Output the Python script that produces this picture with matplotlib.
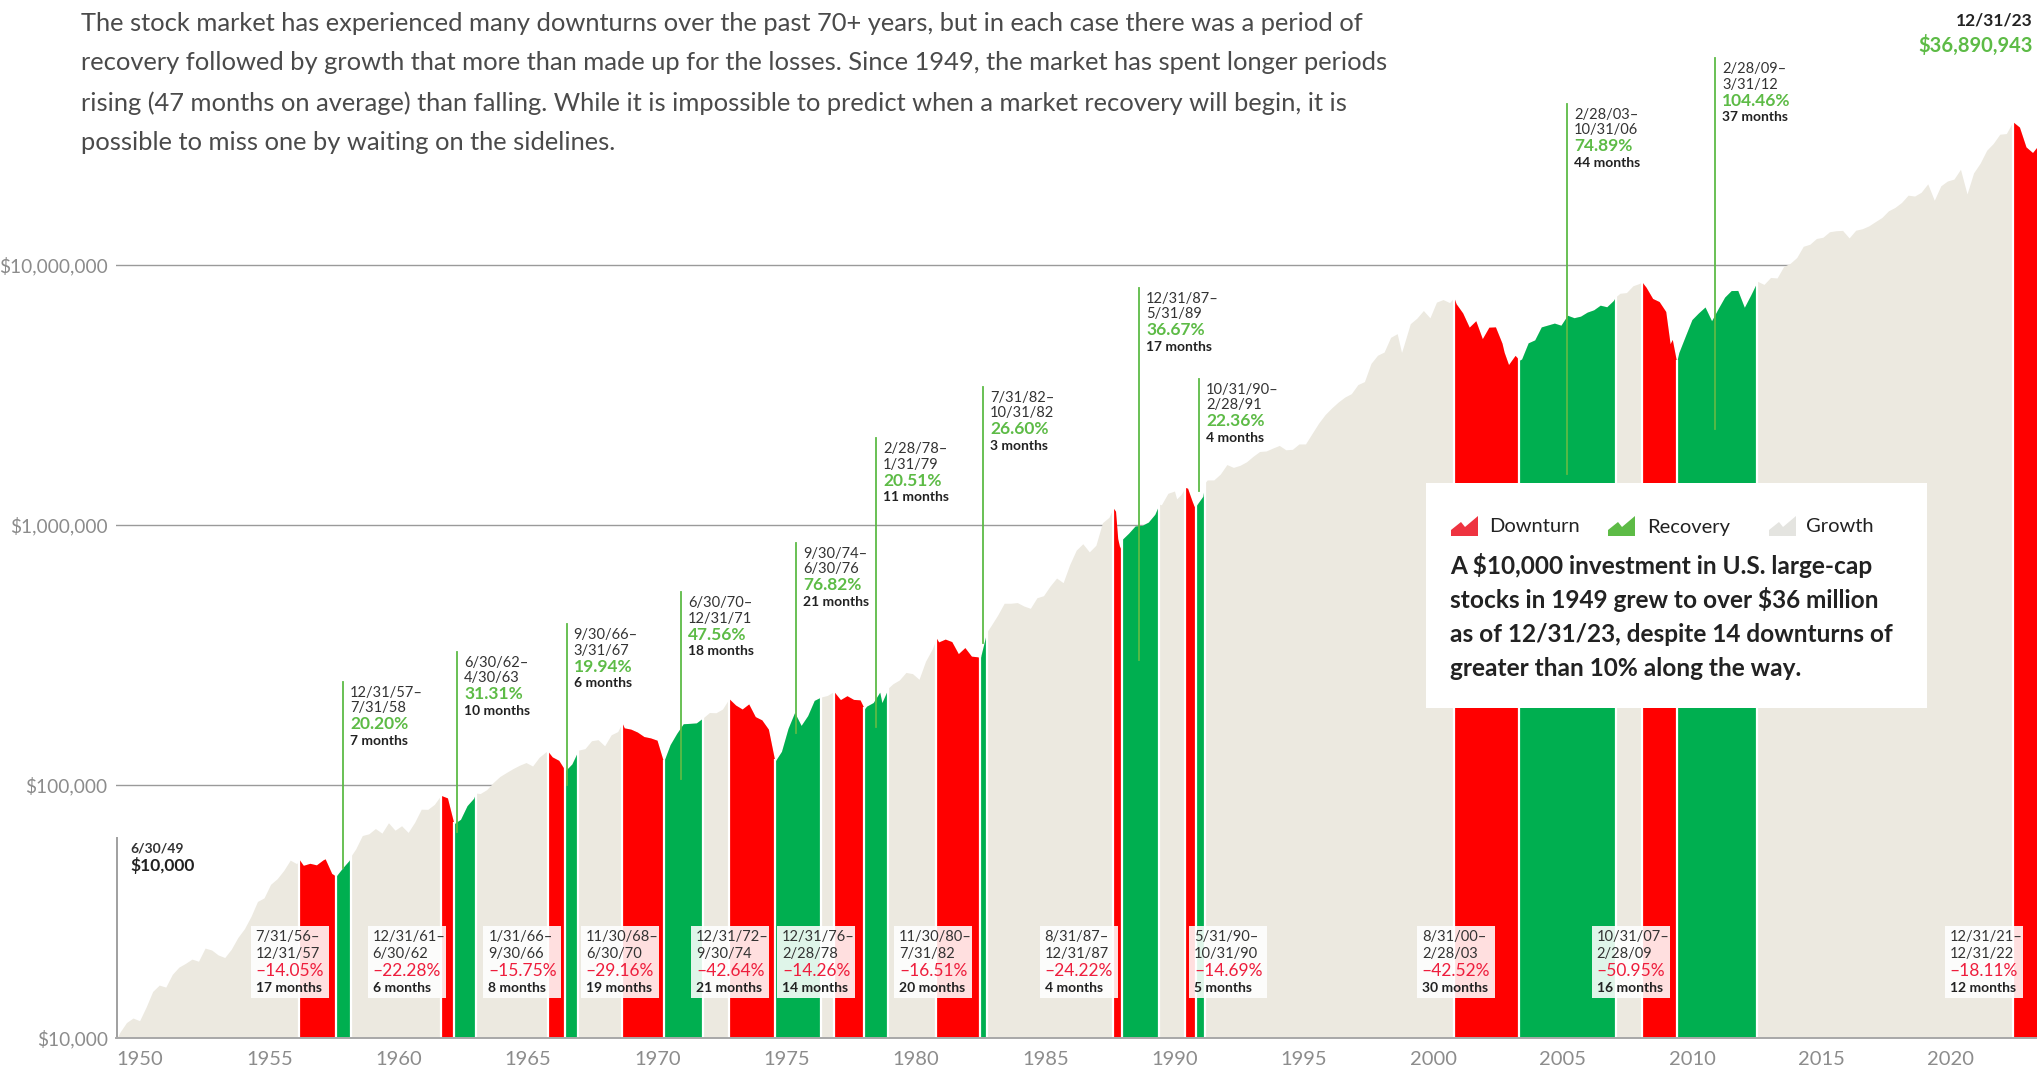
import calendar
import matplotlib
matplotlib.use("Agg")
import matplotlib.pyplot as plt
import numpy as np
from matplotlib.patches import Rectangle, Polygon
from matplotlib.transforms import blended_transform_factory, offset_copy

plt.rcParams['font.family'] = ['Lato', 'DejaVu Sans']

# ---------------- data ----------------
dates = [
    "1949-06", "1949-09", "1949-12", "1950-03", "1950-06", "1950-09", "1950-12",
    "1951-03", "1951-06", "1951-09", "1951-12", "1952-03", "1952-06", "1952-09", "1952-12",
    "1953-03", "1953-06", "1953-09", "1953-12", "1954-03", "1954-06", "1954-09", "1954-12",
    "1955-03", "1955-06", "1955-09", "1955-12", "1956-03", "1956-06", "1956-07", "1956-09", "1956-12",
    "1957-03", "1957-06", "1957-07", "1957-10", "1957-12", "1958-03", "1958-06", "1958-07", "1958-09", "1958-12",
    "1959-03", "1959-06", "1959-09", "1959-12", "1960-03", "1960-06", "1960-09", "1960-12",
    "1961-03", "1961-06", "1961-09", "1961-12", "1962-03", "1962-06", "1962-09", "1962-12",
    "1963-03", "1963-04", "1963-06", "1963-09", "1963-12", "1964-03", "1964-06", "1964-09", "1964-12",
    "1965-03", "1965-06", "1965-09", "1965-12", "1966-01", "1966-03", "1966-06", "1966-09", "1966-12",
    "1967-03", "1967-06", "1967-09", "1967-12", "1968-03", "1968-06", "1968-09", "1968-11", "1968-12",
    "1969-03", "1969-06", "1969-09", "1969-12", "1970-03", "1970-06", "1970-09", "1970-12",
    "1971-03", "1971-06", "1971-09", "1971-12", "1972-03", "1972-06", "1972-09", "1972-12",
    "1973-03", "1973-06", "1973-09", "1973-12", "1974-03", "1974-06", "1974-09", "1974-12",
    "1975-03", "1975-06", "1975-09", "1975-12", "1976-03", "1976-06", "1976-09", "1976-12",
    "1977-03", "1977-06", "1977-09", "1977-12", "1978-02", "1978-03", "1978-06", "1978-09", "1978-10", "1978-12",
    "1979-01", "1979-03", "1979-06", "1979-09", "1979-12", "1980-03", "1980-06", "1980-09", "1980-11", "1980-12",
    "1981-03", "1981-06", "1981-09", "1981-12", "1982-03", "1982-06", "1982-07", "1982-10", "1982-12",
    "1983-03", "1983-06", "1983-09", "1983-12", "1984-03", "1984-06", "1984-09", "1984-12",
    "1985-03", "1985-06", "1985-09", "1985-12", "1986-03", "1986-06", "1986-09", "1986-12",
    "1987-03", "1987-06", "1987-08", "1987-09", "1987-10", "1987-11", "1987-12",
    "1988-03", "1988-06", "1988-09", "1988-12", "1989-03", "1989-05", "1989-06", "1989-09", "1989-12",
    "1990-01", "1990-03", "1990-05", "1990-06", "1990-08", "1990-09", "1990-10",
    "1991-01", "1991-02", "1991-03", "1991-06", "1991-09", "1991-12",
    "1992-03", "1992-06", "1992-09", "1992-12", "1993-03", "1993-06", "1993-09", "1993-12",
    "1994-03", "1994-06", "1994-09", "1994-12", "1995-03", "1995-06", "1995-09", "1995-12",
    "1996-03", "1996-06", "1996-09", "1996-12", "1997-03", "1997-06", "1997-09", "1997-12",
    "1998-03", "1998-06", "1998-08", "1998-09", "1998-12", "1999-03", "1999-06", "1999-09", "1999-12",
    "2000-03", "2000-06", "2000-08", "2000-09", "2000-12", "2001-03", "2001-06", "2001-09", "2001-12",
    "2002-03", "2002-06", "2002-07", "2002-09", "2002-12", "2003-02", "2003-03", "2003-06", "2003-09", "2003-12",
    "2004-03", "2004-06", "2004-09", "2004-12", "2005-03", "2005-06", "2005-09", "2005-12",
    "2006-03", "2006-06", "2006-09", "2006-10", "2006-12", "2007-03", "2007-06", "2007-09", "2007-10", "2007-12",
    "2008-03", "2008-06", "2008-09", "2008-11", "2008-12", "2009-02", "2009-03", "2009-06", "2009-09", "2009-12",
    "2010-03", "2010-06", "2010-09", "2010-12", "2011-03", "2011-06", "2011-09", "2011-12",
    "2012-03", "2012-06", "2012-09", "2012-12", "2013-03", "2013-06", "2013-09", "2013-12",
    "2014-03", "2014-06", "2014-09", "2014-12", "2015-03", "2015-06", "2015-09", "2015-12",
    "2016-03", "2016-06", "2016-09", "2016-12", "2017-03", "2017-06", "2017-09", "2017-12",
    "2018-03", "2018-06", "2018-09", "2018-12", "2019-03", "2019-06", "2019-09", "2019-12",
    "2020-03", "2020-06", "2020-09", "2020-12", "2021-03", "2021-06", "2021-09", "2021-12",
    "2022-03", "2022-06", "2022-09", "2022-12", "2023-03", "2023-06", "2023-09", "2023-12",
]
values = [
    10000, 11200, 12200, 12700, 12400, 14000, 16070,
    17000, 16700, 18700, 19930, 20600, 21400, 21000, 23590,
    23200, 22200, 21700, 23360, 25900, 28000, 31200, 35650,
    36800, 41500, 43600, 46900, 51400, 49800, 51880, 49100, 49980,
    49300, 51500, 52000, 45700, 44590, 48000, 51300, 53590, 56800, 63920,
    64900, 68000, 65300, 71570, 67000, 69700, 65700, 71900,
    80700, 80600, 84200, 91240, 89200, 70910, 73800, 83270,
    88900, 93110, 92700, 96000, 102260, 107800, 111700, 115600, 119110,
    122000, 118300, 127800, 133940, 134750, 128300, 124400, 113530, 120470,
    136170, 138000, 148000, 149350, 141500, 156000, 160500, 173140, 165870,
    164000, 159800, 153600, 151770, 148700, 122650, 143000, 157860,
    172000, 172600, 173300, 180980, 190000, 189600, 196000, 214700,
    203000, 196000, 205000, 183220, 178000, 164000, 123150, 134720,
    165000, 190000, 169500, 184830, 211500, 217760, 221000, 228890,
    213000, 220500, 213400, 212460, 196250, 201000, 207500, 227500, 207500, 226400,
    236500, 245000, 253500, 271000, 268140, 255000, 299500, 333000, 366430, 355070,
    364000, 356000, 320000, 337640, 313000, 311000, 305930, 387310, 410400,
    450000, 500000, 500000, 502990, 488000, 478000, 525000, 534530,
    582000, 625000, 600000, 704130, 800000, 847000, 788000, 835590,
    1020000, 1070000, 1160550, 1130000, 887000, 814000, 879460,
    930000, 992000, 996000, 1025540, 1099000, 1201960, 1196000, 1324000, 1350540,
    1260000, 1310000, 1393700, 1385000, 1240000, 1180000, 1188970,
    1290000, 1454820, 1490000, 1490000, 1570000, 1707420,
    1665000, 1696000, 1750000, 1837530, 1917000, 1926000, 1976000, 2022750,
    1946000, 1954000, 2049000, 2049450, 2248000, 2463000, 2659000, 2819630,
    2971000, 3104000, 3200000, 3467010, 3560000, 4182000, 4496000, 4623600,
    5268000, 5443000, 4610000, 4902000, 5945030, 6241000, 6681000, 6264000, 7195860,
    7361000, 7165000, 7490000, 7096000, 6541040, 5766000, 6103000, 5207000, 5763310,
    5779000, 5005000, 4615000, 4140000, 4489620, 4305000, 4348000, 5017000, 5150000, 5777240,
    5875000, 5976000, 5865000, 6405800, 6268000, 6355000, 6584000, 6720320,
    7003000, 6905000, 7296000, 7529000, 7781460, 7830000, 8320000, 8491000, 8629000, 8208650,
    7433000, 7231000, 6625000, 4980000, 5171450, 4232500, 4603000, 5332000, 6165000, 6539830,
    6891000, 6101000, 6793000, 7524730, 7972000, 7980000, 6873000, 7683500,
    8653700, 8417000, 8951000, 8912860, 9864000, 10147000, 10679000, 11799740,
    12013000, 12641000, 12783000, 13415120, 13543000, 13580000, 12705000, 13600250,
    13783000, 14134000, 14678000, 15226840, 16148000, 16646000, 17392000, 18550860,
    18410000, 19042000, 20510000, 17738330, 20160000, 21030000, 21390000, 23324090,
    18753000, 22606000, 24624000, 27615720, 29322000, 31830000, 32015000, 35544290,
    33910000, 28451000, 27061000, 29107220, 31290000, 34030000, 32916000, 36890943,
]

downturn_start = ["1956-07", "1961-12", "1966-01", "1968-11", "1972-12", "1976-12",
                  "1980-11", "1987-08", "1990-05", "2000-08", "2007-10", "2021-12"]
downturn_end = ["1957-12", "1962-06", "1966-09", "1970-06", "1974-09", "1978-02",
                "1982-07", "1987-12", "1990-10", "2003-02", "2009-02", "2022-12"]
downturn_pct = [-14.05, -22.28, -15.75, -29.16, -42.64, -14.26,
                -16.51, -24.22, -14.69, -42.52, -50.95, -18.11]
downturn_months = [17, 6, 8, 19, 21, 14, 20, 4, 5, 30, 16, 12]

recovery_start = ["1957-12", "1962-06", "1966-09", "1970-06", "1974-09", "1978-02",
                  "1982-07", "1987-12", "1990-10", "2003-02", "2009-02"]
recovery_end = ["1958-07", "1963-04", "1967-03", "1971-12", "1976-06", "1979-01",
                "1982-10", "1989-05", "1991-02", "2006-10", "2012-03"]
recovery_pct = [20.20, 31.31, 19.94, 47.56, 76.82, 20.51, 26.60, 36.67, 22.36, 74.89, 104.46]
recovery_months = [7, 10, 6, 18, 21, 11, 3, 17, 4, 44, 37]

year_ticks = list(range(1950, 2021, 5))
y_ticks_labels = ["$10,000", "$100,000", "$1,000,000", "$10,000,000"]

intro_lines = [
    "The stock market has experienced many downturns over the past 70+ years, but in each case there was a period of",
    "recovery followed by growth that more than made up for the losses. Since 1949, the market has spent longer periods",
    "rising (47 months on average) than falling. While it is impossible to predict when a market recovery will begin, it is",
    "possible to miss one by waiting on the sidelines.",
]
box_lines = [
    "A $10,000 investment in U.S. large-cap",
    "stocks in 1949 grew to over $36 million",
    "as of 12/31/23, despite 14 downturns of",
    "greater than 10% along the way.",
]
legend_labels = ["Downturn", "Recovery", "Growth"]


# ---------------- helpers ----------------
def to_x(s):
    y, m = map(int, s.split("-"))
    return y + m / 12.0


def to_label(s):
    y, m = map(int, s.split("-"))
    d = calendar.monthrange(y, m)[1]
    return f"{m}/{d}/{y % 100:02d}"


W, H, DPI = 2037, 1071, 100
BEIGE = "#ECE9E0"
RED = "#FF0000"
GREEN = "#00AF50"
LGREEN = "#5DBB46"
PINK = "#EE1D3C"
GRAY = "#8C8C8C"
DARK = "#333333"

x = np.array([to_x(d) for d in dates])
v = np.array(values, dtype=float)

fig = plt.figure(figsize=(W / DPI, H / DPI), dpi=DPI)
fig.patch.set_facecolor("white")

ax_left_px, ax_bottom_px = 116, 1037.6
ax = fig.add_axes([ax_left_px / W, (H - ax_bottom_px) / H, 1 - ax_left_px / W, ax_bottom_px / H])
ax.set_yscale("log")
x0 = 1949.6
px_per_year = 26.2
x1 = x0 + (W - ax_left_px) / px_per_year
ybot = 10 ** 4.0285
ytop = 10 ** 8.019
ax.set_xlim(x0, x1)
ax.set_ylim(ybot, ytop)

for s in ["top", "right", "left"]:
    ax.spines[s].set_visible(False)
ax.spines["bottom"].set_color("#A8A8A8")
ax.spines["bottom"].set_linewidth(1.4)
ax.spines["bottom"].set_zorder(20)

# gridlines
for g in [1e5, 1e6, 1e7]:
    ax.axhline(g, color="#9A9A9A", lw=1.0, zorder=0.5)

# y ticks
ax.set_yticks([ybot, 1e5, 1e6, 1e7])
ax.set_yticklabels(y_ticks_labels)
ax.yaxis.set_minor_locator(matplotlib.ticker.NullLocator())
ax.tick_params(axis="y", length=0, pad=6, labelsize=13.8, labelcolor=GRAY)

# x ticks (label placement follows the reference)
tick_pos = [1950.52 + (yv - 1950) * 0.9873 for yv in year_ticks]
ax.set_xticks(tick_pos)
ax.set_xticklabels([str(t) for t in year_ticks])
ax.tick_params(axis="x", length=0, pad=10, labelsize=14.5, labelcolor=GRAY)

# growth area
ax.fill_between(x, ybot, v, color=BEIGE, lw=0, zorder=1)


def fill_period(s, e, color):
    xs, xe = to_x(s), to_x(e)
    m = (x >= xs - 1e-9) & (x <= xe + 1e-9)
    ax.fill_between(x[m], ybot, v[m], color=color, lw=0, zorder=2)


for s, e in zip(downturn_start, downturn_end):
    fill_period(s, e, RED)
for s, e in zip(recovery_start, recovery_end):
    fill_period(s, e, GREEN)

# white separators between periods
bounds = sorted(set(downturn_start + downturn_end + recovery_start + recovery_end))
for b in bounds:
    xb = to_x(b)
    vb = np.interp(xb, x, v)
    ax.plot([xb, xb], [ybot, vb * 1.02], color="white", lw=1.6, zorder=3, solid_capstyle="butt")

# start marker
ax.plot([x0 + 0.02, x0 + 0.02], [ybot, 6.25e4], color="#A0A0A0", lw=1.4, zorder=4, clip_on=False)
ax.annotate(to_label(dates[0]), (x0, 6.25e4), xytext=(14, -10), textcoords="offset pixels",
            fontsize=10, fontweight="bold", color=DARK, va="center", ha="left")
ax.annotate(f"${values[0]:,.0f}", (x0, 6.25e4), xytext=(14, -27), textcoords="offset pixels",
            fontsize=12.5, fontweight="bold", color="#222222", va="center", ha="left")

# recovery labels layout: (line x in years, line top value, line bottom value)
rec_layout = [
    (1958.26, 2.49e5, 4.8e4),
    (1962.62, 3.25e5, 6.6e4),
    (1966.80, 4.16e5, 1.0e5),
    (1971.16, 5.52e5, 1.05e5),
    (1975.55, 8.53e5, 1.58e5),
    (1978.61, 2.16e6, 1.67e5),
    (1982.69, 3.4e6, 3.52e5),
    (1988.65, 8.16e6, 3.03e5),
    (1990.94, 3.65e6, 1.35e6),
    (2004.98, 4.16e7, 1.57e6),
    (2010.63, 6.25e7, 2.34e6),
]
for i, (lx, top, bot) in enumerate(rec_layout):
    ax.plot([lx, lx], [bot, top], color=LGREEN, lw=1.3, zorder=6)
    lines = [
        (to_label(recovery_start[i]) + "–", 10.5, "normal", DARK, 11),
        (to_label(recovery_end[i]), 10.5, "normal", DARK, 26.5),
        (f"{recovery_pct[i]:.2f}%", 12.5, "bold", LGREEN, 42.5),
        (f"{recovery_months[i]} months", 10, "bold", "#222222", 59),
    ]
    for txt, fs, fw, col, dy in lines:
        ax.annotate(txt, (lx, top), xytext=(7, -dy), textcoords="offset pixels",
                    fontsize=fs, fontweight=fw, color=col, va="center", ha="left", zorder=7)

# downturn label boxes: left edge positions in years
down_box_left = [1954.74, 1959.20, 1963.62, 1967.34, 1971.55, 1974.83,
                 1979.29, 1984.85, 1990.55, 1999.25, 2005.92, 2019.40]
box_w_years = 78 / px_per_year
bt = blended_transform_factory(ax.transData, ax.transAxes)
box_top_f = (ax_bottom_px - 926) / ax_bottom_px
box_bot_f = (ax_bottom_px - 998) / ax_bottom_px
text_f = [(ax_bottom_px - yy) / ax_bottom_px for yy in (937.5, 954, 971, 987.5)]
tt = offset_copy(bt, fig=fig, x=5, y=0, units="dots")
for i, bl in enumerate(down_box_left):
    ax.add_patch(Rectangle((bl, box_bot_f), box_w_years, box_top_f - box_bot_f,
                           transform=bt, facecolor="white", alpha=0.88, lw=0, zorder=8))
    specs = [
        (to_label(downturn_start[i]) + "–", 10.5, "normal", DARK),
        (to_label(downturn_end[i]), 10.5, "normal", DARK),
        (f"–{abs(downturn_pct[i]):.2f}%", 12.5, "normal", PINK),
        (f"{downturn_months[i]} months", 10, "bold", "#222222"),
    ]
    for (txt, fs, fw, col), yf in zip(specs, text_f):
        ax.text(bl, yf, txt, transform=tt, fontsize=fs, fontweight=fw, color=col,
                va="center", ha="left", zorder=9)


# ---------------- figure-level text ----------------
def fx(px):
    return px / W


def fy(py):
    return 1 - py / H


for ln, yy in zip(intro_lines, (23.5, 63, 103, 143)):
    fig.text(fx(81), fy(yy), ln, fontsize=18.35, fontweight="normal", color="#4A4A4A",
             va="center", ha="left")

fig.text(fx(2033), fy(21), to_label(dates[-1]), fontsize=12.5, fontweight="bold",
         color="#222222", ha="right", va="center")
fig.text(fx(2033), fy(45), f"${values[-1]:,.0f}", fontsize=14.5, fontweight="bold",
         color=LGREEN, ha="right", va="center")

# legend / note box
ax.add_patch(Rectangle((fx(1426), fy(708)), fx(1927) - fx(1426), fy(483) - fy(708),
                       transform=fig.transFigure, facecolor="white", lw=0, zorder=30))
icon_cols = ["#EE3340", "#5DBB46", "#E4E4E0"]
icon_x = [1451, 1608, 1769]
text_x = [1489, 1647, 1806]
mountain = [(0, 0), (0, 6), (10, 14), (14, 9), (27, 20), (27, 0)]
for ic, ixp, txp, lab in zip(icon_cols, icon_x, text_x, legend_labels):
    pts = [(fx(ixp + mx), fy(536 - my)) for mx, my in mountain]
    ax.add_patch(Polygon(pts, closed=True, transform=fig.transFigure, facecolor=ic,
                         lw=0, zorder=31))
    fig.text(fx(txp), fy(527), lab, fontsize=14.5, color="#222222", va="center", ha="left",
             zorder=32)
for ln, yy in zip(box_lines, (565, 600, 634, 668)):
    fig.text(fx(1450), fy(yy), ln, fontsize=17.6, fontweight="bold", color="#222222",
             va="center", ha="left", zorder=32)

fig.savefig("out.png", dpi=DPI, facecolor="white")
